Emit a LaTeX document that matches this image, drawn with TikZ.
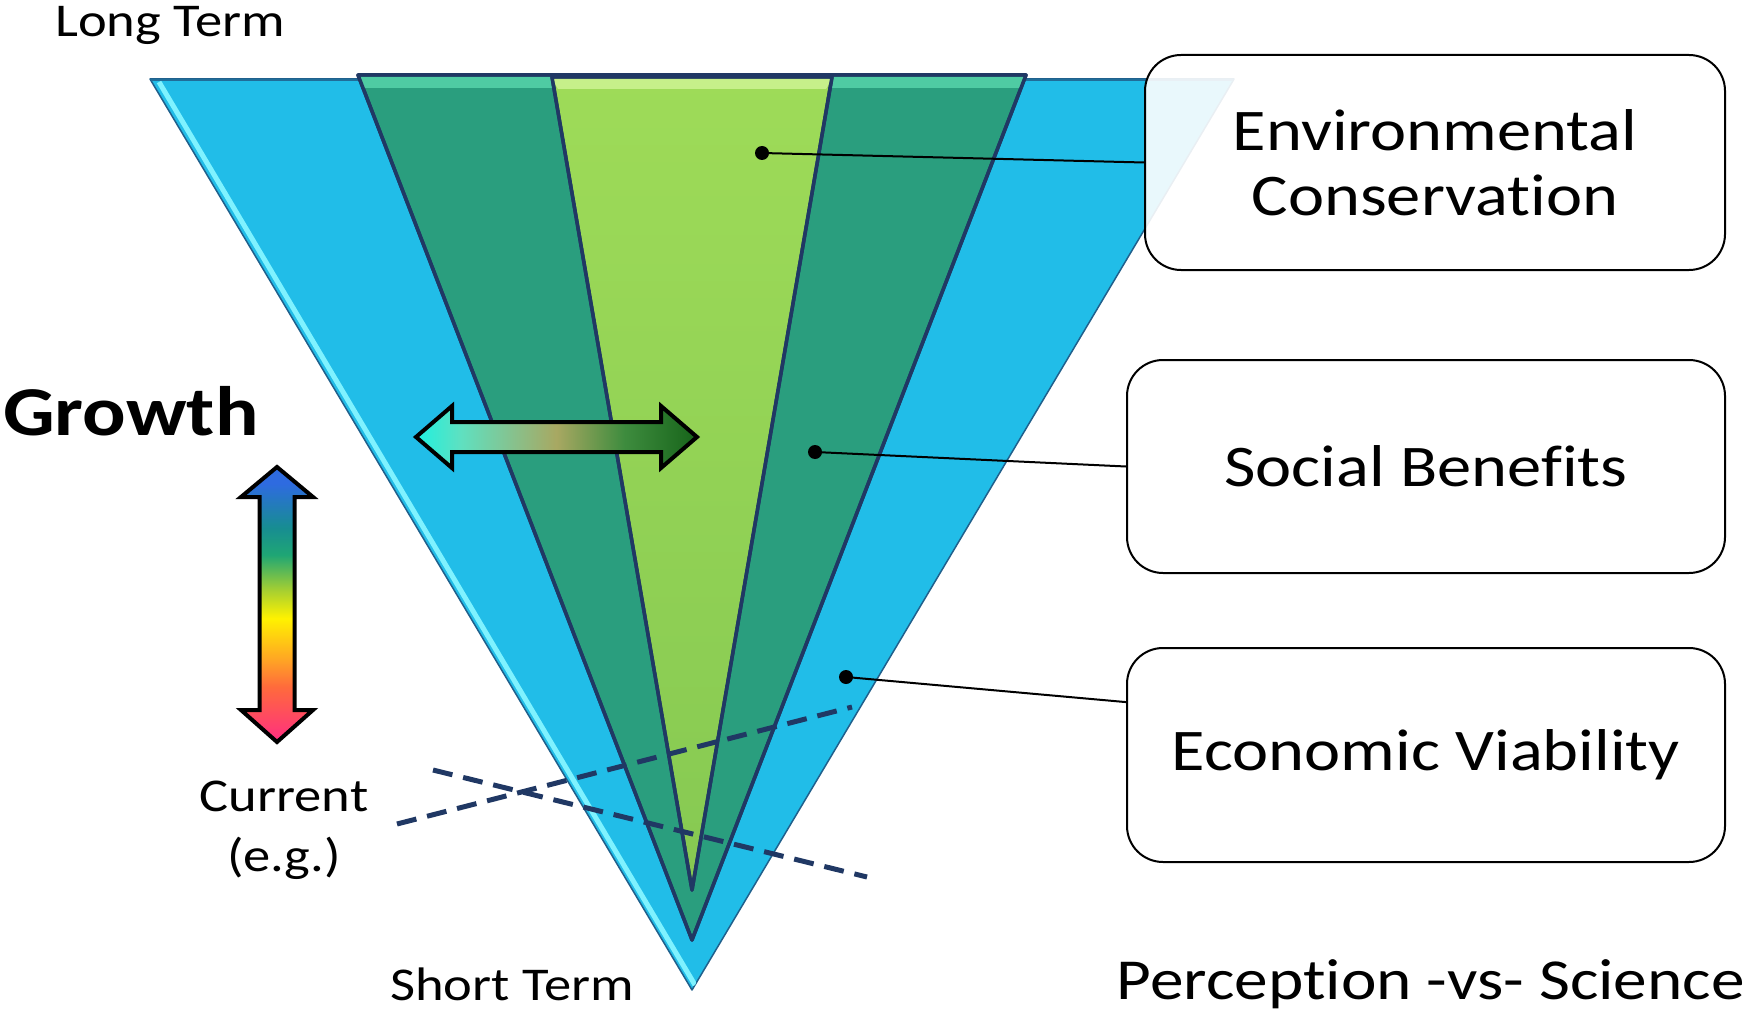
\documentclass[tikz,border=0pt]{standalone}
\usepackage{fontspec}
\setmainfont{Carlito}[FakeStretch=1.16, Ligatures=NoCommon]
\usetikzlibrary{calc}
\definecolor{skyb}{HTML}{21BDE8}
\definecolor{dgreen}{HTML}{2A9E7E}
\definecolor{lgreen}{HTML}{9EDB58}
\definecolor{lgreenb}{HTML}{86C952}
\definecolor{navy}{HTML}{203864}
\definecolor{cyanhl}{HTML}{7FF2FF}
\definecolor{tealhl}{HTML}{4FCBA3}
\definecolor{lghl}{HTML}{C6F08A}
% rainbow colours
\definecolor{rbpink}{HTML}{FF2D82}
\definecolor{rbred}{HTML}{FF6A3C}
\definecolor{rborange}{HTML}{FFA524}
\definecolor{rbyellow}{HTML}{FFF200}
\definecolor{rbyg}{HTML}{A8D030}
\definecolor{rbgreen}{HTML}{1FA674}
\definecolor{rbteal}{HTML}{178D92}
\definecolor{rbblue}{HTML}{2E6BE0}
% horizontal arrow colours
\definecolor{hacyan}{HTML}{1FF0E0}
\definecolor{halt}{HTML}{5FE0C0}
\definecolor{haolive}{HTML}{A8A862}
\definecolor{hamid}{HTML}{3E8C3E}
\definecolor{hadark}{HTML}{17641A}
\pgfdeclareverticalshading{rainbowsh}{100bp}{color(0bp)=(rbpink); color(25bp)=(rbpink); color(35bp)=(rbred); color(40bp)=(rborange); color(47.5bp)=(rbyellow); color(52.5bp)=(rbyg); color(59bp)=(rbgreen); color(64bp)=(rbteal); color(72bp)=(rbblue); color(100bp)=(rbblue)}
\pgfdeclarehorizontalshading{greensh}{100bp}{color(0bp)=(hacyan); color(25bp)=(hacyan); color(33bp)=(halt); color(50bp)=(haolive); color(62bp)=(hamid); color(75bp)=(hadark); color(100bp)=(hadark)}
\tikzset{
  band/.style={draw=navy, line width=3.5pt, line join=round},
  box/.style={draw=black, line width=2pt, rounded corners=36pt, fill=white, fill opacity=0.9, text opacity=1, align=center, font=\fontsize{59}{65}\selectfont},
  dot/.style={circle, fill=black, inner sep=0pt, minimum size=14pt},
  conn/.style={draw=black, line width=2pt},
  dashline/.style={draw=navy, line width=5pt, dash pattern=on 20pt off 11pt},
  lbl/.style={inner sep=0pt, font=\fontsize{47}{60}\selectfont},
  bigarrow/.style={draw=black, line width=4pt, line join=miter}
}
\begin{document}
\begin{tikzpicture}[x=1pt, y=-1pt]
\useasboundingbox (0,0) rectangle (1752,1016);
% outer blue triangle
\path[fill=skyb, draw=navy!70!skyb, line width=1.5pt, line join=round] (150,79) -- (1234,79) -- (692,990) -- cycle;
\begin{scope}
  \clip (150,79) -- (1234,79) -- (692,990) -- cycle;
  \draw[cyanhl, line width=5pt] (159,82) -- (695,985);
  \draw[navy!60!skyb, line width=3pt] (150,80) -- (1234,80);
\end{scope}
% dark green band
\path[band, fill=dgreen] (358,75) -- (1026,75) -- (692,940) -- cycle;
\begin{scope}
  \clip (358,75) -- (1026,75) -- (692,940) -- cycle;
  \fill[tealhl] (358,77) -- (1026,77) -- (1020,88) -- (364,88) -- cycle;
\end{scope}
\draw[band] (358,75) -- (1026,75) -- (692,940) -- cycle;
% light green band
\path[band, top color=lgreen, bottom color=lgreenb] (552,77) -- (832,77) -- (692,890) -- cycle;
\begin{scope}
  \clip (552,77) -- (832,77) -- (692,890) -- cycle;
  \fill[lghl] (552,79) -- (832,79) -- (826,89) -- (558,89) -- cycle;
\end{scope}
\draw[band] (552,77) -- (832,77) -- (692,890) -- cycle;
% dashed "current" lines
\coordinate (d1a) at (397,824);
\coordinate (d1b) at (852,707);
\coordinate (d2a) at (433,770);
\coordinate (d2b) at (867,877);
\draw[dashline] (d1a) -- (d1b);
\draw[dashline] (d2a) -- (d2b);
% horizontal gradient arrow
\path[bigarrow, shading=greensh] (416,437) -- (452,406) -- (452,422) -- (661,422) -- (661,406) -- (697,437) -- (661,468) -- (661,452) -- (452,452) -- (452,468) -- cycle;
% vertical rainbow arrow
\path[bigarrow, shading=rainbowsh] (277,467) -- (313,497) -- (294.5,497) -- (294.5,710) -- (313,710) -- (277,742) -- (241,710) -- (259.5,710) -- (259.5,497) -- (241,497) -- cycle;
% boxes
\node[box, minimum width=580pt, minimum height=215pt] (boxE) at (1435,162.5) {Environmental\\Conservation};
\node[box, minimum width=598pt, minimum height=213pt] (boxS) at (1426,466.5) {Social Benefits};
\node[box, minimum width=598pt, minimum height=214pt] (boxC) at (1426,755) {Economic Viability};
% dots and connectors
\node[dot] (dE) at (762,153) {};
\node[dot] (dS) at (815,452) {};
\node[dot] (dC) at (846,677) {};
\draw[conn] (dE.center) -- (boxE.west);
\draw[conn] (dS.center) -- (boxS.west);
\draw[conn] (dC.center) -- (boxC.170);
% labels
\node[lbl, anchor=base west] (lt) at (55,37) {Long Term};
\node[inner sep=0pt, anchor=base west, font=\bfseries\fontsize{70}{80}\selectfont] (gr) at (3,435) {Growth};
\node[lbl, align=center] (cur) at (284,830) {Current\\(e.g.)};
\node[lbl, anchor=base] (st) at (512,1000) {Short Term};
\node[inner sep=0pt, anchor=base east, font=\fontsize{58}{68}\selectfont] (pvs) at (1745,999) {Perception -vs- Science};
\end{tikzpicture}
\end{document}
